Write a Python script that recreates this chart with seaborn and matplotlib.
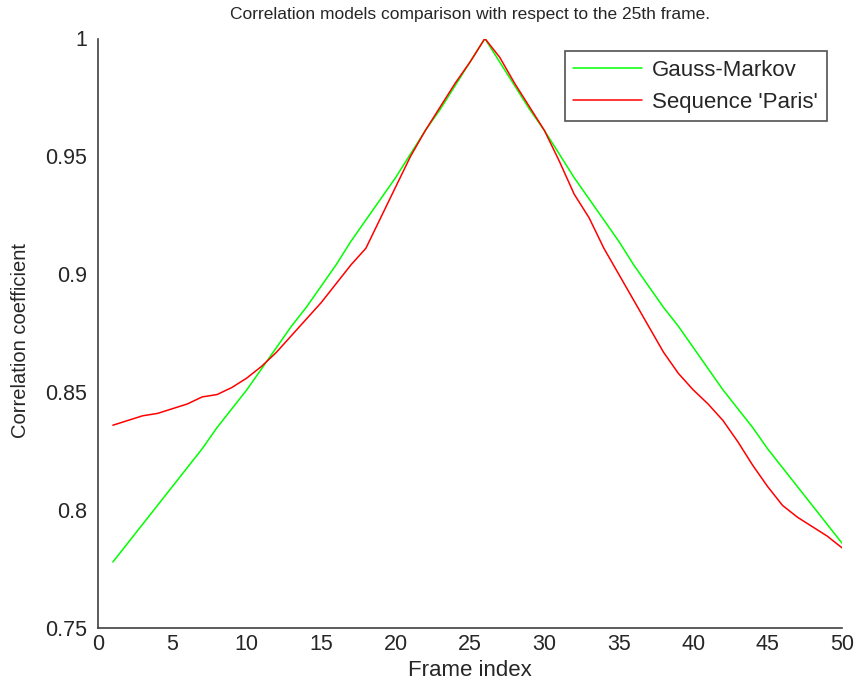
import matplotlib
matplotlib.use("Agg")
import matplotlib.pyplot as plt
import seaborn as sns
import pandas as pd

frames = list(range(1, 51))
gauss_markov = [0.778, 0.786, 0.794, 0.802, 0.810, 0.818, 0.826, 0.835, 0.843, 0.851,
                0.860, 0.869, 0.878, 0.886, 0.895, 0.904, 0.914, 0.923, 0.932, 0.941,
                0.951, 0.961, 0.970, 0.980, 0.990, 1.000, 0.990, 0.980, 0.970, 0.961,
                0.951, 0.941, 0.932, 0.923, 0.914, 0.904, 0.895, 0.886, 0.878, 0.869,
                0.860, 0.851, 0.843, 0.835, 0.826, 0.818, 0.810, 0.802, 0.794, 0.786]
paris = [0.836, 0.838, 0.840, 0.841, 0.843, 0.845, 0.848, 0.849, 0.852, 0.856,
         0.861, 0.867, 0.874, 0.881, 0.888, 0.896, 0.904, 0.911, 0.924, 0.937,
         0.950, 0.961, 0.971, 0.981, 0.990, 1.000, 0.992, 0.981, 0.971, 0.961,
         0.948, 0.934, 0.924, 0.911, 0.900, 0.889, 0.878, 0.867, 0.858, 0.851,
         0.845, 0.838, 0.829, 0.819, 0.810, 0.802, 0.797, 0.793, 0.789, 0.784]
series_names = ["Gauss-Markov", "Sequence 'Paris'"]
x_ticks = [0, 5, 10, 15, 20, 25, 30, 35, 40, 45, 50]
y_ticks = [0.75, 0.8, 0.85, 0.9, 0.95, 1.0]
y_tick_labels = ["0.75", "0.8", "0.85", "0.9", "0.95", "1"]

df = pd.DataFrame({
    "frame": frames * 2,
    "corr": gauss_markov + paris,
    "series": [series_names[0]] * len(frames) + [series_names[1]] * len(frames),
})

sns.set_style("white")
plt.rcParams["font.family"] = ["Liberation Sans", "DejaVu Sans"]

fig = plt.figure(figsize=(8.55, 6.91), dpi=100)
ax = fig.add_axes([98 / 855, 63 / 691, 744 / 855, 589.5 / 691])

sns.lineplot(data=df, x="frame", y="corr", hue="series",
             palette={series_names[0]: "#00ff00", series_names[1]: "#ff0000"},
             linewidth=1.1, ax=ax, legend=True)

ax.set_xlim(0, 50)
ax.set_ylim(0.75, 1.0)
ax.set_xticks(x_ticks)
ax.set_xticklabels([str(t) for t in x_ticks])
ax.set_yticks(y_ticks)
ax.set_yticklabels(y_tick_labels)

txt = "#262626"
ax.tick_params(direction="in", length=6, width=1, colors=txt,
               labelsize=15.5, labelcolor=txt)
ax.tick_params(axis="y", pad=8)
ax.tick_params(axis="x", pad=4)
for s in ["top", "right"]:
    ax.spines[s].set_visible(False)
for s in ["left", "bottom"]:
    ax.spines[s].set_color("#404040")
    ax.spines[s].set_linewidth(1.2)

ax.set_xlabel("Frame index", fontsize=16, color=txt, labelpad=4)
ax.set_ylabel("Correlation coefficient", fontsize=14.5, color=txt)
ax.yaxis.set_label_coords(-0.092, 0.487)
ax.set_title("Correlation models comparison with respect to the 25th frame.",
             fontsize=12.5, color=txt, pad=14)

leg = ax.legend(loc="upper right", bbox_to_anchor=(827 / 855, 1 - 51 / 691),
                bbox_transform=fig.transFigure, fontsize=16, frameon=True,
                fancybox=False, edgecolor=txt, handlelength=3.1,
                borderpad=0.4, labelspacing=0.48, handletextpad=0.45,
                borderaxespad=0)
leg.get_frame().set_linewidth(1.2)

fig.savefig("out.png", dpi=100)
